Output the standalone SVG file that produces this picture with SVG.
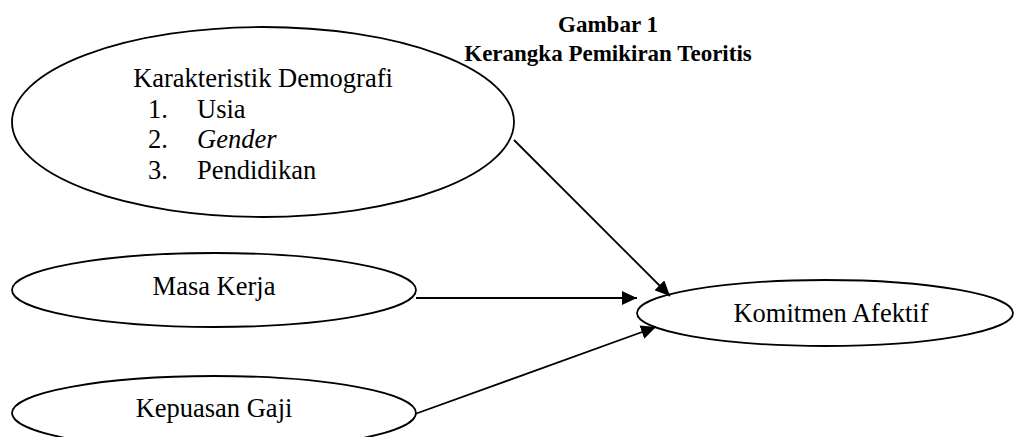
<svg xmlns="http://www.w3.org/2000/svg" width="1014" height="437" viewBox="0 0 1014 437">
<style>
.node ellipse{fill:#fff;stroke:#000;stroke-width:1.8}
.t{font-family:"Liberation Serif","Times New Roman",serif;font-size:26.5px;fill:#000}
.title{font-family:"Liberation Serif","Times New Roman",serif;font-size:23px;font-weight:bold;fill:#000;text-anchor:middle}
.c{text-anchor:middle}
.edge{stroke:#000;stroke-width:1.8;fill:none;marker-end:url(#ah)}
</style>
<defs>
<marker id="ah" markerUnits="userSpaceOnUse" markerWidth="16" markerHeight="14" refX="15" refY="7" orient="auto">
<path d="M0,0 L15,7 L0,14 z" fill="#000"/>
</marker>
</defs>
<rect width="1014" height="437" fill="#fff"/>
<g id="title">
<text class="title" x="608" y="32">Gambar 1</text>
<text class="title" x="608" y="61">Kerangka Pemikiran Teoritis</text>
</g>
<g id="node-demografi" class="node">
<ellipse cx="263" cy="122" rx="251" ry="95"/>
<text class="t c" x="263" y="87">Karakteristik Demografi</text>
<text class="t" x="148" y="118">1.</text><text class="t" x="197" y="118">Usia</text>
<text class="t" x="148" y="148">2.</text><text class="t" x="197" y="148" font-style="italic">Gender</text>
<text class="t" x="148" y="179">3.</text><text class="t" x="197" y="179">Pendidikan</text>
</g>
<g id="node-masa-kerja" class="node">
<ellipse cx="214" cy="290" rx="202" ry="37"/>
<text class="t c" x="214" y="295">Masa Kerja</text>
</g>
<g id="node-kepuasan-gaji" class="node">
<ellipse cx="214" cy="413" rx="202" ry="37"/>
<text class="t c" x="214" y="417">Kepuasan Gaji</text>
</g>
<g id="node-komitmen" class="node">
<ellipse cx="825" cy="313" rx="188" ry="33"/>
<text class="t c" x="831" y="322">Komitmen Afektif</text>
</g>
<g id="connectors">
<line class="edge" x1="514" y1="140" x2="670" y2="296"/>
<line class="edge" x1="416" y1="298" x2="637" y2="298"/>
<line class="edge" x1="415" y1="414" x2="656" y2="327"/>
</g>
</svg>
